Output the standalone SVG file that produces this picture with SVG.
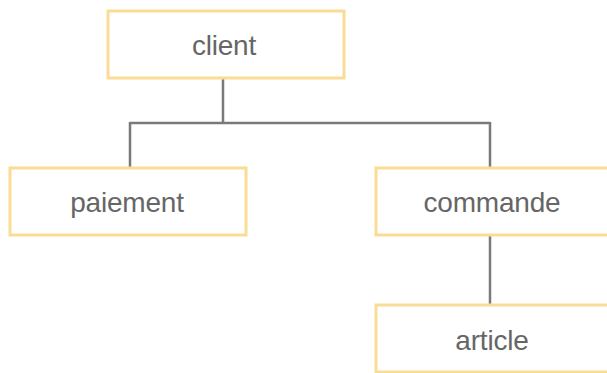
<svg xmlns="http://www.w3.org/2000/svg" width="607" height="373" viewBox="0 0 607 373">
  <style>
    .box { fill: #ffffff; stroke: #fbdc97; stroke-width: 3; }
    .label { font-family: "Liberation Sans", Arial, sans-serif; font-size: 28px; letter-spacing: -0.2px; fill: #666666; text-anchor: middle; }
    .link { fill: none; stroke: #7a7a7a; stroke-width: 2.5; }
  </style>
  <rect width="607" height="373" fill="#ffffff"/>
  <g id="connectors">
    <path class="link" d="M223 78 V123 M130 123 H490 M130 122 V168 M490 122 V168"/>
    <path class="link" d="M490 235 V305"/>
  </g>
  <g id="client">
    <rect class="box" x="108" y="11" width="236" height="67"/>
    <text class="label" x="224" y="55">client</text>
  </g>
  <g id="paiement">
    <rect class="box" x="10" y="168" width="236" height="67"/>
    <text class="label" x="127" y="212">paiement</text>
  </g>
  <g id="commande">
    <rect class="box" x="376" y="168" width="236" height="67"/>
    <text class="label" x="492" y="212">commande</text>
  </g>
  <g id="article">
    <rect class="box" x="376" y="305" width="236" height="67"/>
    <text class="label" x="492" y="350">article</text>
  </g>
</svg>
